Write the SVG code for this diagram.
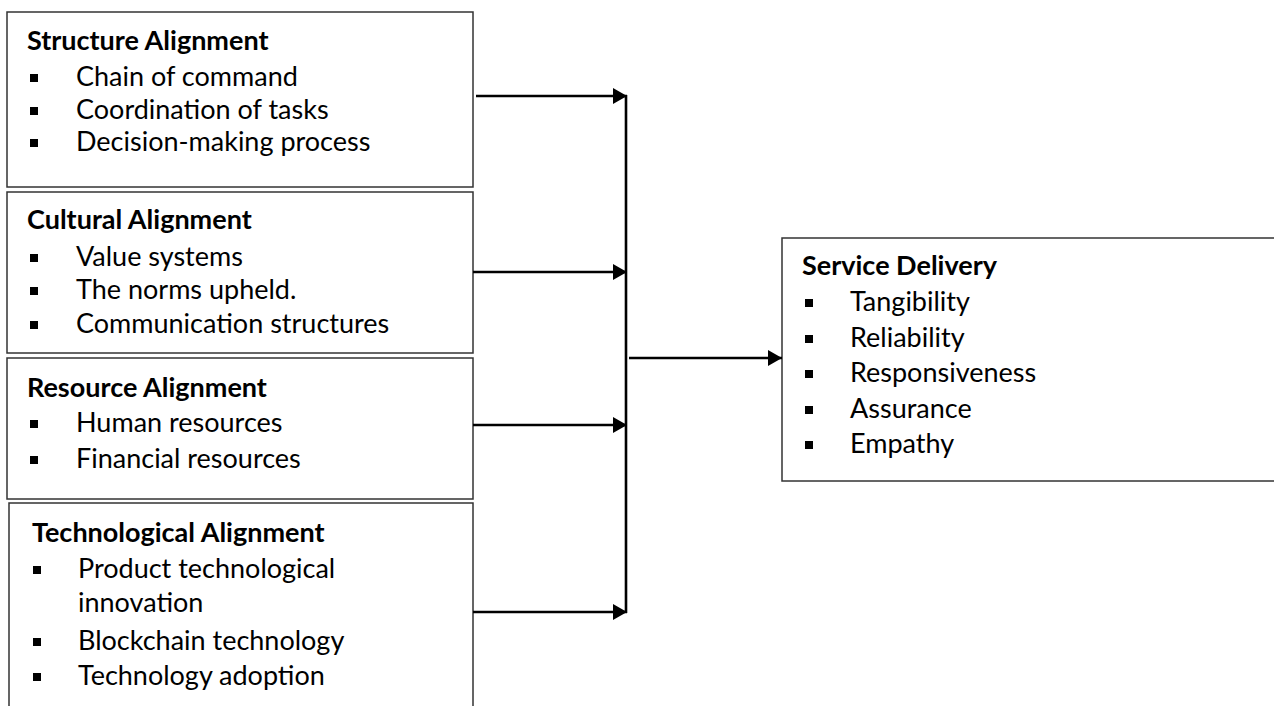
<svg xmlns="http://www.w3.org/2000/svg" width="1274" height="706" viewBox="0 0 1274 706">
  <defs>
    <style>
      .box { fill: #ffffff; stroke: #333333; stroke-width: 1.5; }
      .title { font-family: Lato, "Liberation Sans", sans-serif; font-size: 27px; font-weight: bold; fill: #000; }
      .item { font-family: Lato, "Liberation Sans", sans-serif; font-size: 27px; fill: #000; }
      .bullet { fill: #000; }
      .link { fill: none; stroke: #000; stroke-width: 2.6; }
    </style>
    <marker id="arrowhead" markerUnits="userSpaceOnUse" markerWidth="14" markerHeight="16" refX="14" refY="8" orient="auto">
      <path d="M0,0 L14,8 L0,16 Z" fill="#000"/>
    </marker>
  </defs>

  <rect width="1274" height="706" fill="#ffffff"/>

  <!-- Structure alignment -->
  <g id="structure-alignment">
    <rect class="box" x="7" y="12" width="466" height="175"/>
    <text class="title" x="27" y="50">Structure Alignment</text>
    <rect class="bullet" x="30" y="74" width="8" height="8"/>
    <text class="item" x="76" y="86">Chain of command</text>
    <rect class="bullet" x="30" y="107" width="8" height="8"/>
    <text class="item" x="76" y="119">Coordination of tasks</text>
    <rect class="bullet" x="30" y="139" width="8" height="8"/>
    <text class="item" x="76" y="151">Decision-making process</text>
  </g>

  <!-- Cultural alignment -->
  <g id="cultural-alignment">
    <rect class="box" x="7" y="192" width="466" height="161"/>
    <text class="title" x="27" y="229">Cultural Alignment</text>
    <rect class="bullet" x="30" y="254" width="8" height="8"/>
    <text class="item" x="76" y="266">Value systems</text>
    <rect class="bullet" x="30" y="287" width="8" height="8"/>
    <text class="item" x="76" y="299">The norms upheld.</text>
    <rect class="bullet" x="30" y="321" width="8" height="8"/>
    <text class="item" x="76" y="333">Communication structures</text>
  </g>

  <!-- Resource alignment -->
  <g id="resource-alignment">
    <rect class="box" x="7" y="358" width="466" height="141"/>
    <text class="title" x="27" y="397">Resource Alignment</text>
    <rect class="bullet" x="30" y="420" width="8" height="8"/>
    <text class="item" x="76" y="432">Human resources</text>
    <rect class="bullet" x="30" y="456" width="8" height="8"/>
    <text class="item" x="76" y="468">Financial resources</text>
  </g>

  <!-- Technological alignment -->
  <g id="technological-alignment">
    <rect class="box" x="9" y="503" width="464" height="220"/>
    <text class="title" x="32" y="542">Technological Alignment</text>
    <rect class="bullet" x="33" y="566" width="8" height="8"/>
    <text class="item" x="78" y="578">Product technological</text>
    <text class="item" x="78" y="612">innovation</text>
    <rect class="bullet" x="33" y="638" width="8" height="8"/>
    <text class="item" x="78" y="650">Blockchain technology</text>
    <rect class="bullet" x="33" y="673" width="8" height="8"/>
    <text class="item" x="78" y="685">Technology adoption</text>
  </g>

  <!-- Service delivery -->
  <g id="service-delivery">
    <rect class="box" x="782" y="238" width="520" height="243"/>
    <text class="title" x="802" y="275">Service Delivery</text>
    <rect class="bullet" x="805" y="299" width="8" height="8"/>
    <text class="item" x="850" y="311">Tangibility</text>
    <rect class="bullet" x="805" y="335" width="8" height="8"/>
    <text class="item" x="850" y="347">Reliability</text>
    <rect class="bullet" x="805" y="370" width="8" height="8"/>
    <text class="item" x="850" y="382">Responsiveness</text>
    <rect class="bullet" x="805" y="406" width="8" height="8"/>
    <text class="item" x="850" y="418">Assurance</text>
    <rect class="bullet" x="805" y="441" width="8" height="8"/>
    <text class="item" x="850" y="453">Empathy</text>
  </g>

  <!-- Connectors -->
  <g id="connectors">
    <line class="link" x1="476" y1="96" x2="627" y2="96" marker-end="url(#arrowhead)"/>
    <line class="link" x1="473" y1="272" x2="627" y2="272" marker-end="url(#arrowhead)"/>
    <line class="link" x1="473" y1="425" x2="627" y2="425" marker-end="url(#arrowhead)"/>
    <line class="link" x1="473" y1="612" x2="627" y2="612" marker-end="url(#arrowhead)"/>
    <line class="link" x1="626" y1="95" x2="626" y2="613"/>
    <line class="link" x1="629" y1="358" x2="782" y2="358" marker-end="url(#arrowhead)"/>
  </g>
</svg>
